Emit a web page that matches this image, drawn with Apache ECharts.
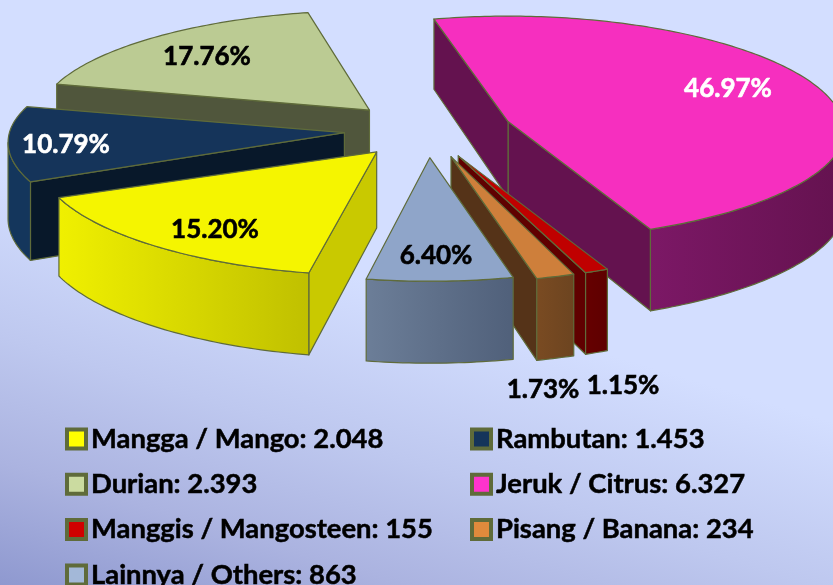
<!DOCTYPE html>
<html>
<head>
<meta charset="utf-8">
<style>html,body{margin:0;padding:0;width:833px;height:585px;overflow:hidden}#c{width:833px;height:585px}</style>
<script src="https://cdn.jsdelivr.net/npm/echarts@6/dist/echarts.min.js"></script>
</head>
<body>
<div id="c"></div>
<script>
// ---- data ----
const categories = ['Mangga / Mango', 'Rambutan', 'Durian', 'Jeruk / Citrus', 'Manggis / Mangosteen', 'Pisang / Banana', 'Lainnya / Others'];
const values = [2048, 1453, 2393, 6327, 155, 234, 863];
const valueLabels = ['2.048', '1.453', '2.393', '6.327', '155', '234', '863'];
const percentLabels = ['15.20%', '10.79%', '17.76%', '46.97%', '1.15%', '1.73%', '6.40%'];

// ---- styles ----
const topColors = ['#F5F500', '#15345A', '#BBCB93', '#F62FBF', '#C00000', '#CE7F3B', '#8FA5C9'];
const radialWall = ['#C9C900', '#08182A', '#50563C', '#64124F', '#600000', '#553318', '#5E6F8A'];
const arcWallL = ['#F0F000', '#14365C', '#50563C', '#7C1866', '#660000', '#7A4B22', '#6C7E98'];
const arcWallR = ['#C0C000', '#14365C', '#50563C', '#64124F', '#5E0000', '#6C4420', '#50607A'];
const legendFill = ['#FFFF00', '#15345A', '#CBDBA0', '#FF33CC', '#D00000', '#E08A3C', '#A3B8D8'];
const labelColors = ['#000', '#fff', '#000', '#fff', '#000', '#000', '#000'];
const labelAnchors = [[215, 229.5], [66, 144.5], [207, 57], [728, 88.5], [623, 386], [543, 390], [436, 255.5]];
const paintOrder = [4, 2, 1, 3, 5, 6, 7];
const leftColumn = [0, 2, 4, 6];
const rightColumn = [1, 3, 5];
// small perspective corrections of each slice: start/end angle in degrees, and radius scales
const angleNudge = [[0.7, 1.8], [0, 0], [0, 0], [-2.3, -0.5], [-1.7, -2], [-1.2, -1.2], [-0.8, 0]];
const radiusScaleX = [1, 1, 0.985, 1, 1, 1, 1];
const radiusScaleFront = [1, 1, 1, 0.96, 1.02, 1.02, 1];
const radiusScaleBack = [1, 1, 1, 1.06, 1, 1, 1];
const EDGE = '#5F6B3A';
const FONT = 'Lato';

// ---- projection of the tilted, exploded pie ----
const CX = 428, CY = 130, EXPLODE = 84, START = 100.3;
const total = values.reduce((a, b) => a + b, 0);
const rad = d => d * Math.PI / 180;
const rx = z => 335 + 31 * z - 10 * z * z;
const ry = z => 111.5 + 12 * z;
const wall = z => 76 + 6 * z;

function sliceAngles(i) {
  let a = START;
  for (let k = 0; k < i; k++) a += values[k] / total * 360;
  return [a, a + values[i] / total * 360];
}

function renderSlice(i) {
  const [b0, b1] = sliceAngles(i);
  const mid = rad((b0 + b1) / 2);
  const a0 = b0 + angleNudge[i][0], a1 = b1 + angleNudge[i][1];
  const ax = CX + EXPLODE * Math.cos(mid);
  const ay = CY + 0.33 * EXPLODE * Math.sin(mid);
  const arc = [];
  const steps = Math.max(2, Math.ceil(a1 - a0));
  for (let s = 0; s <= steps; s++) {
    const th = rad(a0 + (a1 - a0) * s / steps);
    const z = Math.sin(th);
    const sy = z >= 0 ? radiusScaleFront[i] : radiusScaleBack[i];
    arc.push({ x: ax + radiusScaleX[i] * rx(z) * Math.cos(th), y: ay + sy * ry(z) * z, h: wall(z) });
  }
  const apex = { x: ax, y: ay, h: wall(0) };
  const down = p => [p.x, p.y + p.h];
  const up = p => [p.x, p.y];
  const kids = [];
  const edgeStyle = { stroke: EDGE, lineWidth: 1.2, lineJoin: 'round' };
  const addRadial = (p, q) => {
    if (q.x < p.x) kids.push({ type: 'polygon', shape: { points: [up(p), up(q), down(q), down(p)] },
      style: Object.assign({ fill: radialWall[i] }, edgeStyle), silent: true });
  };
  addRadial(arc[arc.length - 1], apex);
  addRadial(apex, arc[0]);
  // outer curved wall: the run of arc segments that run right-to-left on screen
  let run = [];
  const flush = () => {
    if (run.length > 1) {
      kids.push({ type: 'polygon',
        shape: { points: run.map(up).concat(run.slice().reverse().map(down)) },
        style: Object.assign({ fill: new echarts.graphic.LinearGradient(0, 0, 1, 0, [
          { offset: 0, color: arcWallL[i] }, { offset: 1, color: arcWallR[i] }]) }, edgeStyle), silent: true });
    }
    run = [];
  };
  for (let s = 0; s < arc.length - 1; s++) {
    if (arc[s + 1].x < arc[s].x) {
      if (!run.length) run.push(arc[s]);
      run.push(arc[s + 1]);
    } else flush();
  }
  flush();
  kids.push({ type: 'polygon', shape: { points: [up(apex)].concat(arc.map(up)) },
    style: Object.assign({ fill: topColors[i] }, edgeStyle), silent: true });
  kids.push({ type: 'text', silent: true, z2: 50, style: {
    x: labelAnchors[i][0], y: labelAnchors[i][1], text: percentLabels[i],
    fill: labelColors[i], stroke: labelColors[i], lineWidth: 0.6,
    font: 'bold 26px ' + FONT, textAlign: 'center', textVerticalAlign: 'middle' } });
  return { type: 'group', children: kids };
}

const series = categories.map((name, i) => ({
  type: 'custom',
  name: name,
  coordinateSystem: 'none',
  z: 2 + paintOrder[i],
  clip: false,
  silent: true,
  animation: false,
  itemStyle: { color: topColors[i] },
  data: [[values[i]]],
  renderItem: () => renderSlice(i)
}));

const legendOf = (idx, left, top, gap) => ({
  orient: 'vertical', left: left, top: top, height: 240, selectedMode: false,
  itemWidth: 19, itemHeight: 19, itemGap: 17.3, itemTextGap: gap, icon: 'rect',
  formatter: n => n + ': ' + valueLabels[categories.indexOf(n)],
  textStyle: { fontFamily: FONT, fontWeight: 'bold', fontSize: 27.4, color: '#000', lineHeight: 28,
    textBorderColor: '#000', textBorderWidth: 0.5 },
  data: idx.map(k => ({ name: categories[k], itemStyle: { color: legendFill[k], borderColor: EDGE, borderWidth: 4 } }))
});

const chart = echarts.init(document.getElementById('c'), null, { renderer: 'canvas' });
chart.setOption({
  animation: false,
  backgroundColor: new echarts.graphic.LinearGradient(100, 200, -16, 583, [
    { offset: 0, color: '#D3DEFF' }, { offset: 0.4, color: '#BEC8EF' }, { offset: 0.7, color: '#ABB3E0' }, { offset: 1, color: '#8E98CF' }], true),
  legend: [legendOf(leftColumn, 60, 420, 4), legendOf(rightColumn, 465, 420, 6)],
  series: series
});
</script>
</body>
</html>
